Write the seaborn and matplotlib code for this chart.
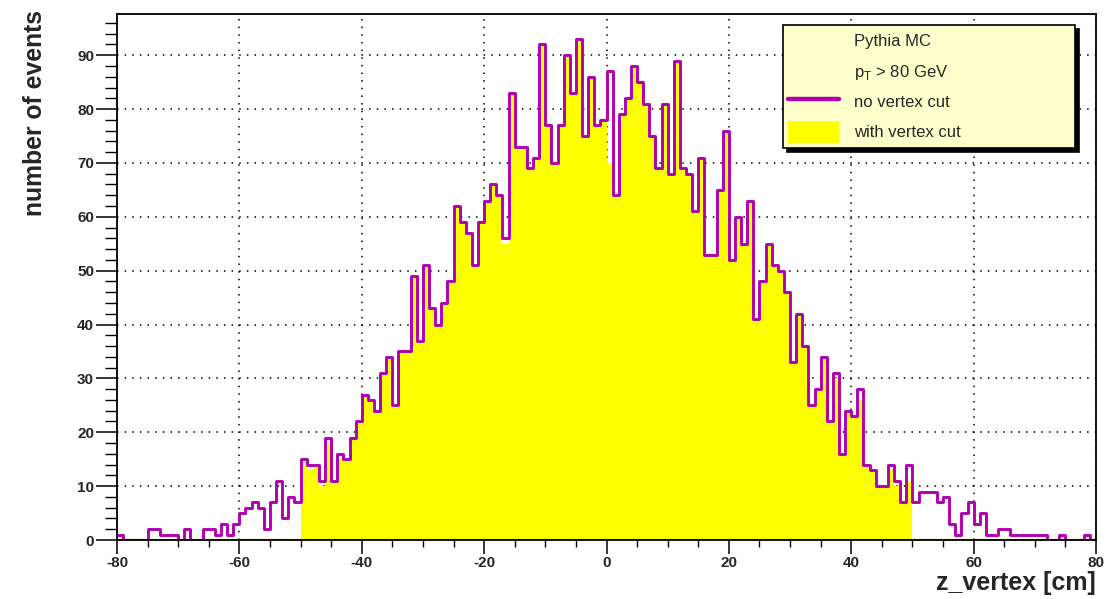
import numpy as np
import pandas as pd
import matplotlib
matplotlib.use("Agg")
import matplotlib.pyplot as plt
import seaborn as sns
from matplotlib.lines import Line2D
from matplotlib.patches import Patch
from matplotlib.ticker import MultipleLocator

# ---------------- data ----------------
# 1 cm bins from -80 to 80 cm
bin_edges = list(range(-80, 81))

# "no vertex cut" counts, one per bin (-80 .. 79)
no_cut_counts = [
    1, 0, 0, 0, 0, 2, 2, 1, 1, 1,          # -80 .. -71
    0, 2, 0, 0, 2, 2, 1, 3, 1, 3,          # -70 .. -61
    5, 6, 7, 6, 2, 7, 11, 4, 8, 7,         # -60 .. -51
    15, 14, 14, 11, 19, 11, 16, 15, 19, 22,  # -50 .. -41
    27, 26, 24, 31, 34, 25, 35, 35, 49, 37,  # -40 .. -31
    51, 43, 40, 44, 48, 62, 59, 57, 51, 59,  # -30 .. -21
    63, 66, 64, 56, 83, 73, 73, 69, 71, 92,  # -20 .. -11
    77, 70, 77, 90, 83, 93, 75, 86, 77, 78,  # -10 .. -1
    87, 64, 79, 82, 88, 85, 81, 75, 69, 81,  # 0 .. 9
    68, 89, 69, 68, 61, 71, 53, 53, 65, 76,  # 10 .. 19
    52, 60, 55, 63, 41, 48, 55, 51, 50, 46,  # 20 .. 29
    33, 42, 36, 25, 28, 34, 22, 31, 16, 24,  # 30 .. 39
    23, 28, 14, 13, 10, 10, 14, 11, 7, 14,   # 40 .. 49
    7, 9, 9, 9, 7, 8, 3, 1, 5, 7,            # 50 .. 59
    3, 5, 1, 1, 2, 2, 1, 1, 1, 1,            # 60 .. 69
    1, 1, 0, 0, 1, 0, 0, 0, 1, 0,            # 70 .. 79
]

# "with vertex cut" counts, |z| < 50 cm (bins -50 .. 49)
cut_counts = [
    14, 13, 14, 10, 18, 11, 15, 15, 19, 22,
    27, 26, 24, 31, 34, 25, 35, 35, 49, 37,
    51, 43, 40, 44, 48, 62, 59, 57, 51, 59,
    63, 66, 64, 55, 83, 73, 73, 69, 71, 92,
    77, 70, 77, 90, 83, 93, 75, 86, 77, 78,
    70, 64, 79, 82, 88, 85, 81, 75, 69, 81,
    68, 89, 69, 68, 61, 71, 53, 53, 65, 76,
    52, 60, 55, 63, 41, 48, 55, 51, 50, 46,
    33, 42, 36, 25, 28, 34, 22, 30, 16, 24,
    23, 26, 14, 13, 10, 10, 13, 10, 7, 11,
]
cut_range = (-50, 50)

legend_labels = ["Pythia MC", r"p$_\mathregular{T}$ > 80 GeV", "no vertex cut", "with vertex cut"]
x_label = "z_vertex [cm]"
y_label = "number of events"

PURPLE = "#B000B0"
YELLOW = "#FFFF00"
OLIVE = "#B8B800"
LEGEND_BG = "#FFFFCC"

# ---------------- frames ----------------
centers = np.array(bin_edges[:-1]) + 0.5
df_all = pd.DataFrame({"z": centers, "n": no_cut_counts})
mask = (centers > cut_range[0]) & (centers < cut_range[1])
df_cut = pd.DataFrame({"z": centers[mask], "n": cut_counts})

# ---------------- style ----------------
sns.set_style("ticks")
plt.rcParams["font.family"] = ["Liberation Sans", "DejaVu Sans"]
plt.rcParams["mathtext.fontset"] = "custom"
plt.rcParams["mathtext.rm"] = "Liberation Sans"
plt.rcParams["axes.unicode_minus"] = False

fig = plt.figure(figsize=(11.07, 5.99), dpi=100)
ax = fig.add_axes([117 / 1107, 1 - 540 / 599, (1096 - 117) / 1107, (540 - 14) / 599])

sns.histplot(data=df_cut, x="z", weights="n", bins=bin_edges, element="step",
             fill=True, color=YELLOW, alpha=1.0, linewidth=0, ax=ax, zorder=2)
ax.axhline(0, color=OLIVE, linewidth=1.6, zorder=2.5)
sns.histplot(data=df_all, x="z", weights="n", bins=bin_edges, element="step",
             fill=False, color=PURPLE, linewidth=2.1, ax=ax, zorder=3)

ax.set_xlim(-80, 80)
ax.set_ylim(0, 1.05 * max(no_cut_counts))

ax.xaxis.set_major_locator(MultipleLocator(20))
ax.xaxis.set_minor_locator(MultipleLocator(5))
ax.yaxis.set_major_locator(MultipleLocator(10))
ax.yaxis.set_minor_locator(MultipleLocator(2))

ax.set_axisbelow(True)
ax.grid(True, which="major", color="black", linestyle=(0, (1, 4)), linewidth=1.1)

for side in ["left", "right", "top", "bottom"]:
    ax.spines[side].set_visible(True)
    ax.spines[side].set_color("black")
    ax.spines[side].set_linewidth(1.3)
    ax.spines[side].set_zorder(5)

ax.tick_params(axis="y", which="major", direction="out", length=15, width=1.1,
               labelsize=11, pad=1.5, color="black")
ax.tick_params(axis="y", which="minor", direction="out", length=9, width=1.0, color="black")
ax.tick_params(axis="x", which="major", direction="out", length=10, width=1.1,
               labelsize=11, pad=1.5, color="black")
ax.tick_params(axis="x", which="minor", direction="out", length=5, width=1.0, color="black")
for lbl in ax.get_xticklabels() + ax.get_yticklabels():
    lbl.set_fontweight("bold")

ax.set_xlabel(x_label, fontsize=18, fontweight="bold", loc="right")
ax.xaxis.set_label_coords(1.0, -0.058)
ax.set_ylabel(y_label, fontsize=17.8, fontweight="bold", loc="top")
ax.yaxis.set_label_coords(-0.072, 1.008)

handles = [
    Line2D([], [], linestyle="none"),
    Line2D([], [], linestyle="none"),
    Line2D([0], [0], color=PURPLE, linewidth=3.2),
    Patch(facecolor=YELLOW, edgecolor="none"),
]
leg_kwargs = dict(loc="upper left", bbox_to_anchor=(0.680, 0.741, 0.2985, 0.238),
                  mode="expand", borderaxespad=0, fontsize=12, frameon=True,
                  fancybox=False, framealpha=1, facecolor=LEGEND_BG, edgecolor="black",
                  handlelength=3.1, handleheight=1.65, handletextpad=0.85,
                  labelspacing=0.5, borderpad=0.3)
try:
    leg = ax.legend(handles, legend_labels,
                    shadow={"color": "black", "alpha": 1, "ox": 3, "oy": -3}, **leg_kwargs)
except Exception:
    leg = ax.legend(handles, legend_labels, shadow=True, **leg_kwargs)
leg.get_frame().set_linewidth(1.2)
leg.set_zorder(10)

fig.savefig("out.png", dpi=100)
